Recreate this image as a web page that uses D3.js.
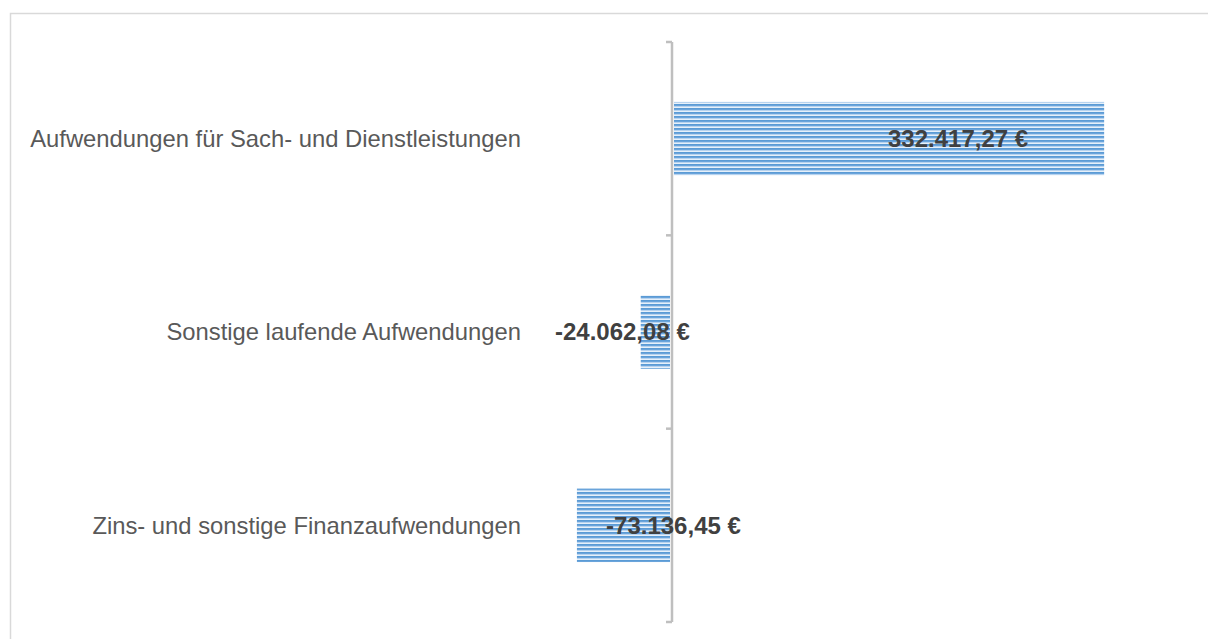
<!DOCTYPE html>
<html>
<head>
<meta charset="utf-8">
<script src="https://cdn.jsdelivr.net/npm/d3@7"></script>
<style>
  body { margin: 0; background: #fff; overflow: hidden; }
  svg { display: block; }
</style>
</head>
<body>
<div id="chart"></div>
<script>
// categories, top to bottom
var categories = [
  "Aufwendungen für Sach- und Dienstleistungen",
  "Sonstige laufende Aufwendungen",
  "Zins- und sonstige Finanzaufwendungen"
];

// values in €
var values = [332417.27, -24062.08, -73136.45];

// value labels as shown on the chart
var valueLabels = ["332.417,27 €", "-24.062,08 €", "-73.136,45 €"];

var svgWidth = 1208;
var svgHeight = 639;

var svg = d3.select("#chart")
  .append("svg")
  .attr("width", svgWidth)
  .attr("height", svgHeight);

// striped fill like the original
var defs = svg.append("defs");
var pattern = defs.append("pattern")
  .attr("id", "stripes")
  .attr("patternUnits", "userSpaceOnUse")
  .attr("width", 8)
  .attr("height", 4);
var stripeColors = ["#5b9bd5", "#6aa4db", "#b7d3ef", "#e6f0fa"];
stripeColors.forEach(function(c, i) {
  pattern.append("rect").attr("y", i).attr("width", 8).attr("height", 1).attr("fill", c);
});

// chart frame (runs off the page at right and bottom)
svg.append("rect")
  .attr("x", 10.5)
  .attr("y", 13.5)
  .attr("width", 1300)
  .attr("height", 700)
  .attr("fill", "none")
  .attr("stroke", "#d9d9d9")
  .attr("stroke-width", 1.5);

// scales
var xScale = d3.scaleLinear()
  .domain([-100000, 350000])
  .range([542, 1127]);

var yScale = d3.scaleBand()
  .domain(categories)
  .range([42, 622])
  .paddingInner(0.62)
  .paddingOuter(0.31);

var data = categories.map(function(c, i) {
  return { cat: c, value: values[i], label: valueLabels[i] };
});

// bars
svg.selectAll(".bar")
  .data(data)
  .enter()
  .append("rect")
  .attr("class", "bar")
  .attr("x", d => Math.min(xScale(0), xScale(d.value)) + (d.value > 0 ? 2 : 0))
  .attr("y", d => yScale(d.cat))
  .attr("width", d => Math.abs(xScale(d.value) - xScale(0)) - 2)
  .attr("height", yScale.bandwidth())
  .attr("fill", "url(#stripes)");

// vertical axis with ticks between categories
var x0 = xScale(0);
var yRange = yScale.range();
var step = yScale.step();
var axis = svg.append("g").attr("class", "axis");
axis.append("line")
  .attr("x1", x0).attr("x2", x0)
  .attr("y1", yRange[0]).attr("y2", yRange[1])
  .attr("stroke", "#bfbfbf")
  .attr("stroke-width", 2.5);
axis.selectAll(".tick")
  .data(d3.range(categories.length + 1))
  .enter()
  .append("line")
  .attr("x1", x0 - 6).attr("x2", x0)
  .attr("y1", i => yRange[0] + i * step)
  .attr("y2", i => yRange[0] + i * step)
  .attr("stroke", "#bfbfbf")
  .attr("stroke-width", 2.5);

// category labels
svg.selectAll(".catLabel")
  .data(data)
  .enter()
  .append("text")
  .attr("class", "catLabel")
  .attr("x", 521)
  .attr("y", d => yScale(d.cat) + yScale.bandwidth() / 2)
  .attr("dy", "0.35em")
  .attr("text-anchor", "end")
  .attr("font-family", "'Liberation Sans', Arial, sans-serif")
  .attr("font-size", "23.8px")
  .attr("fill", "#595959")
  .text(d => d.cat);

// value labels, shifted from the bar middle as in the original
var labelDx = [70, -34, 49];
svg.selectAll(".valLabel")
  .data(data)
  .enter()
  .append("text")
  .attr("class", "valLabel")
  .attr("x", (d, i) => (xScale(0) + xScale(d.value)) / 2 + labelDx[i])
  .attr("y", d => yScale(d.cat) + yScale.bandwidth() / 2)
  .attr("dy", "0.35em")
  .attr("text-anchor", "middle")
  .attr("font-family", "'Liberation Sans', Arial, sans-serif")
  .attr("font-weight", "bold")
  .attr("font-size", "24px")
  .attr("fill", "#404040")
  .text(d => d.label);
</script>
</body>
</html>
